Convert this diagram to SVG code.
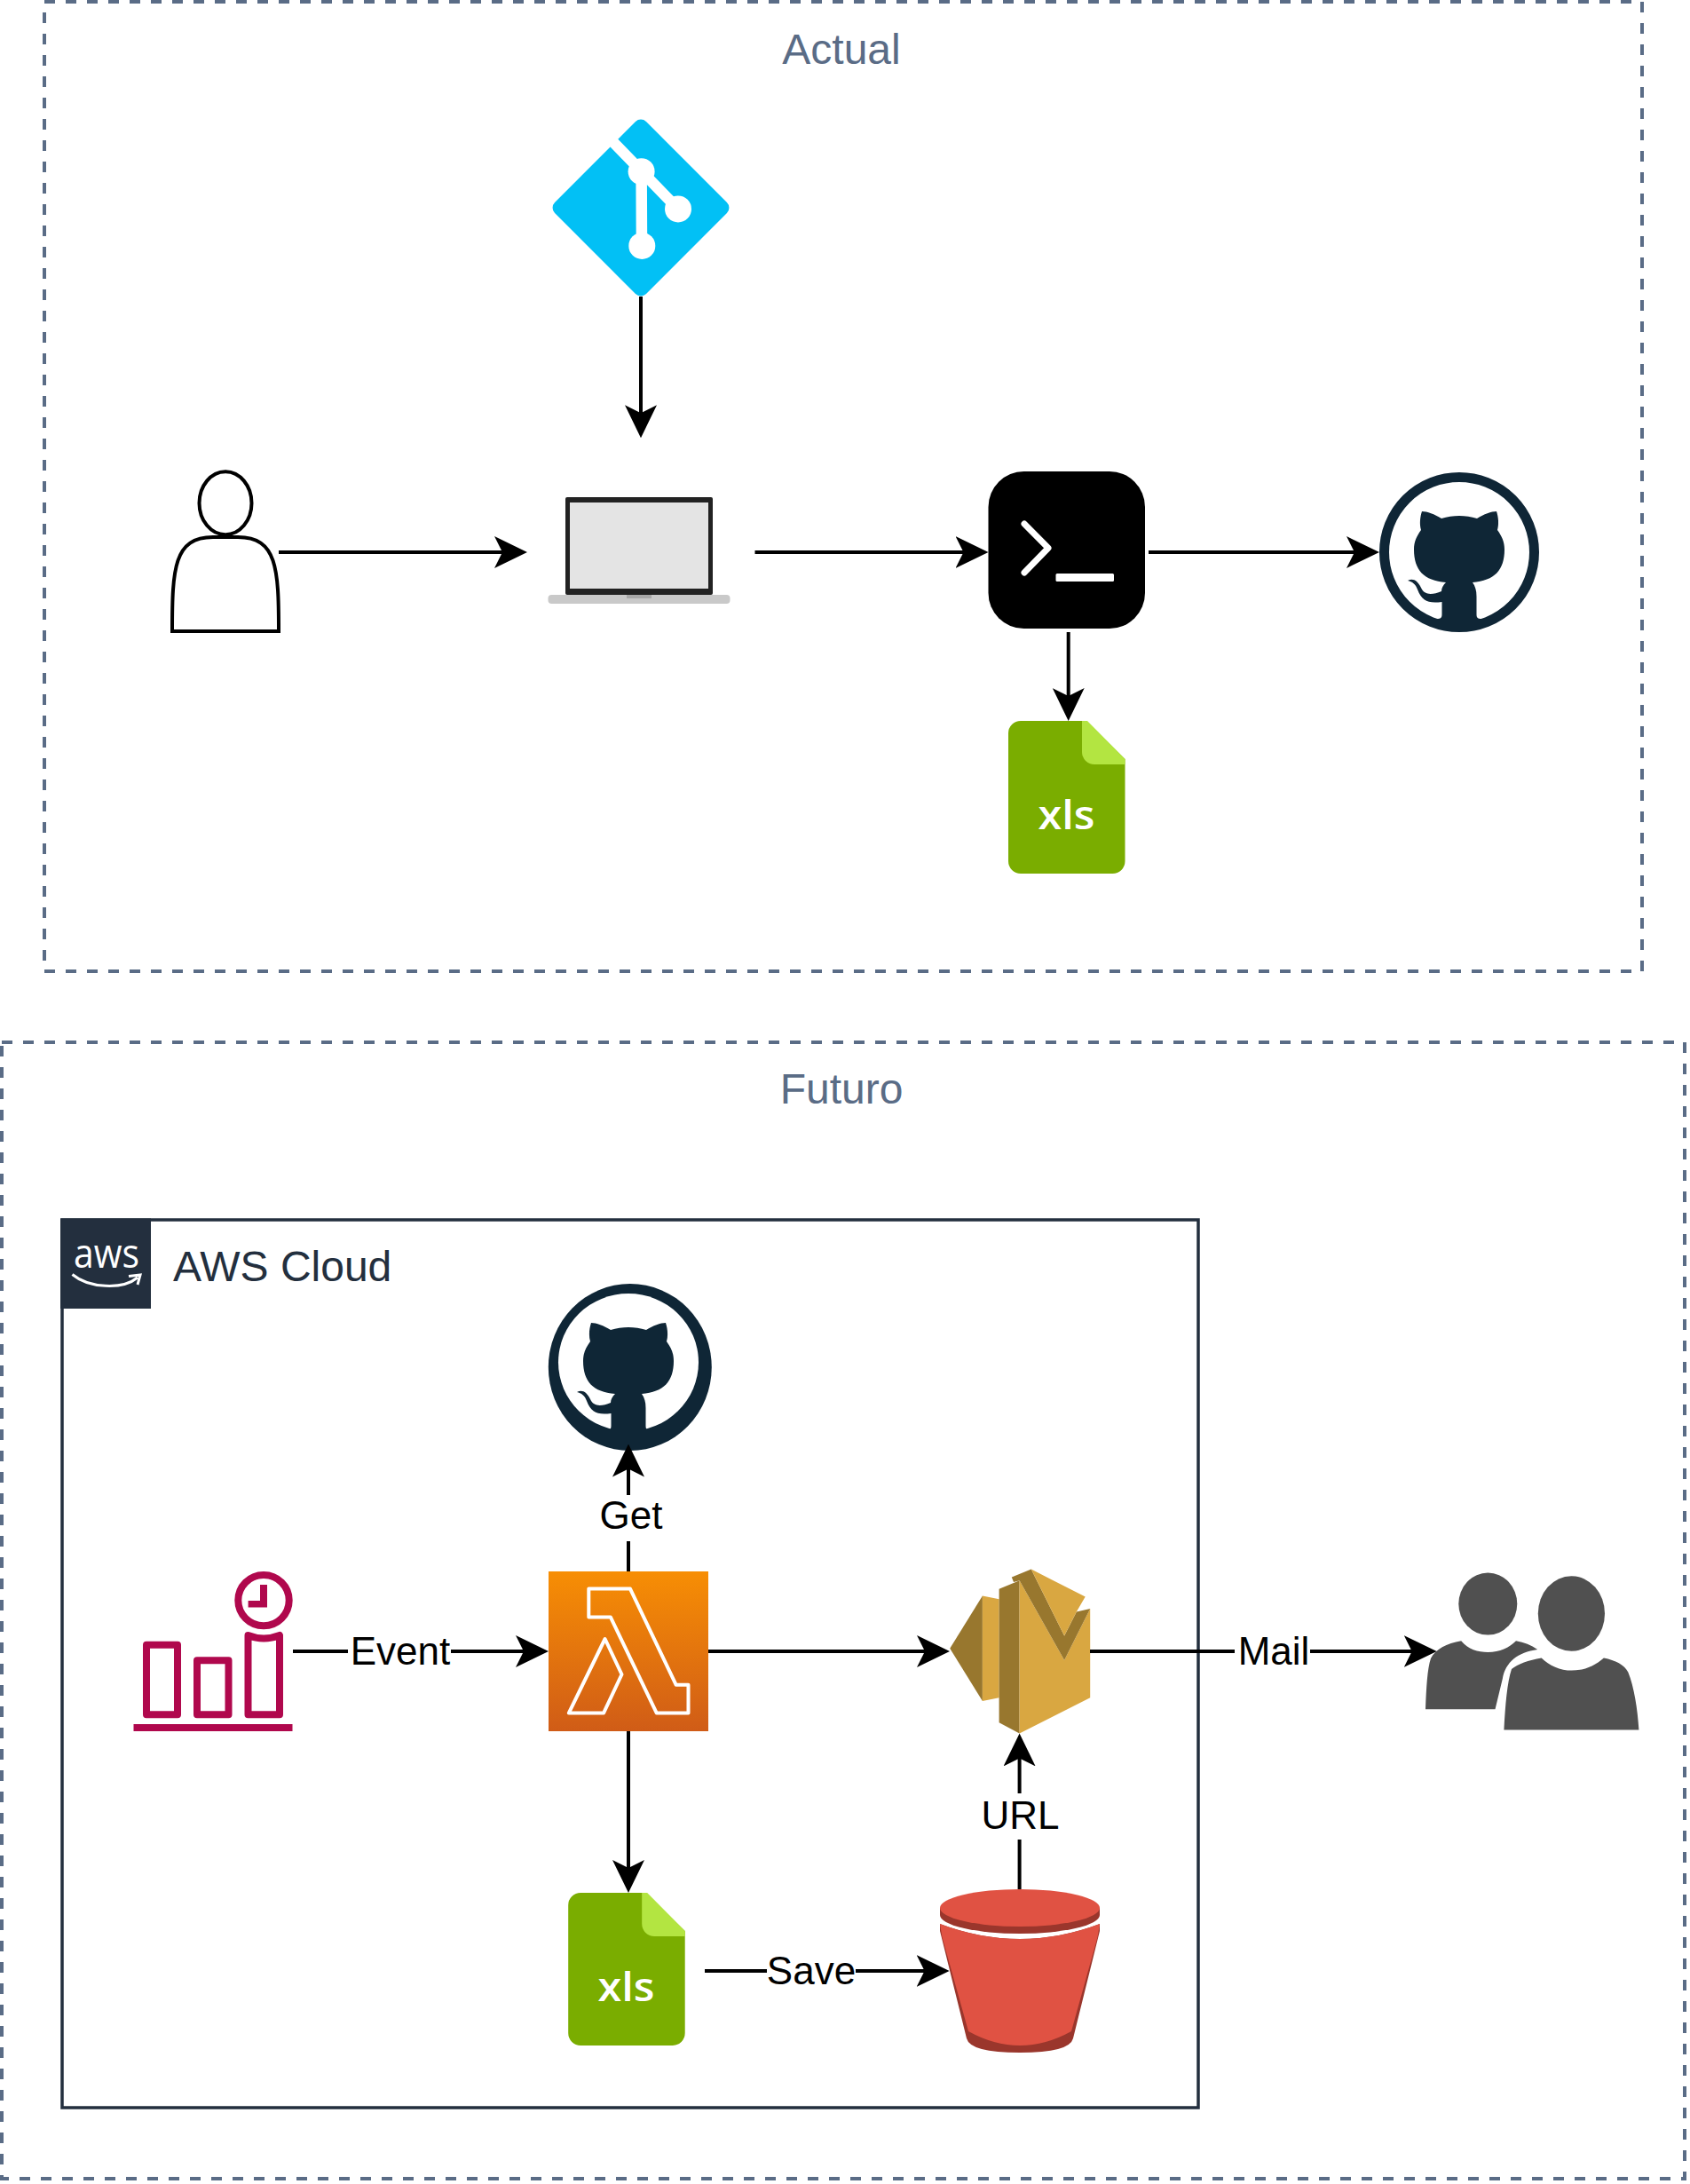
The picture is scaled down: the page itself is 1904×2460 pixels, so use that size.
<svg xmlns="http://www.w3.org/2000/svg" xmlns:xlink="http://www.w3.org/1999/xlink" width="1904" height="2460" viewBox="0 0 1904 2460">
<style>
text{font-family:"Liberation Sans",Arial,sans-serif}
.frame{fill:none;stroke:#5a6c86;stroke-width:4;stroke-dasharray:12 12}
.title{font-size:48px;fill:#5a6c86;text-anchor:middle}
.conn{fill:none;stroke:#000;stroke-width:4;marker-end:url(#arrow)}
.lbl{font-size:44px;fill:#000;text-anchor:middle}
.gap{fill:#fff}
.xls{font-family:"Open Sans",sans-serif;font-size:46px;font-weight:600;fill:#fff}
.sched{fill:none;stroke:#b0084d;stroke-width:8;stroke-linejoin:round}
</style>
<defs>
<marker id="arrow" markerUnits="userSpaceOnUse" viewBox="0 0 37 36" markerWidth="37" markerHeight="36" refX="27" refY="18" orient="auto"><path d="M37 18L0 0L9 18L0 36Z" fill="#000"/></marker>
<linearGradient id="lam" x1="0" y1="0" x2="0" y2="1"><stop offset="0" stop-color="#f78e04"/><stop offset="1" stop-color="#d05c17"/></linearGradient>
<path id="cat" fill="#0f2636" d="M-42-46C-36-46-28-43-20-38C-7-42 7-42 20-38C28-43 36-46 42-46C44-40 45-32 43-25C48-18 51-12 51-3C51 20 40 32 15 34C18 38 19.500 43 19.500 50L19.500 70C19.500 74 21 75 25 75L25 82L-25 82L-25 75C-21 75-19.500 74-19.500 70L-19.500 56C-35 58-42 55-47 42C-49 36-53 33-58 32C-52 29-47 32-43 40C-39 49-30 48-20 44C-20 40-18 37-15 34C-40 32-51 20-51-3C-51-12-48-18-43-25C-45-32-44-40-42-46Z"/>
<g id="xlsfile">
<path fill="#7aad00" d="M14 0H88L131.500 43V158A14 14 0 0 1 117.500 172H14A14 14 0 0 1 0 158V14A14 14 0 0 1 14 0Z"/>
<path fill="#b3e541" d="M83 0H89L131.500 43V49H97A14 14 0 0 1 83 35Z"/>
</g>
</defs>
<rect width="1904" height="2460" fill="#fff"/>

<g id="frame-actual"><rect class="frame" x="50" y="2" width="1800" height="1092"/><text class="title" x="948" y="71.500">Actual</text></g>
<g id="frame-futuro"><rect class="frame" x="2" y="1174" width="1896" height="1280"/><text class="title" x="948" y="1243">Futuro</text></g>

<g id="aws-cloud">
<rect x="70" y="1374" width="1280" height="1000" fill="none" stroke="#232f3e" stroke-width="3.500"/>
<rect x="68" y="1372.500" width="102" height="101.500" fill="#232f3e"/>
<text x="83" y="1427.500" font-size="46" fill="#fff" style="font-family:'Open Sans',sans-serif" textLength="74" lengthAdjust="spacingAndGlyphs">aws</text>
<path d="M81.500 1435.500C100 1451 138 1453 155 1439M145 1437.500L158 1436L155 1447" fill="none" stroke="#fff" stroke-width="3"/>
<text x="195" y="1443" font-size="48" fill="#232f3e">AWS Cloud</text>
</g>

<g id="git">
<rect x="649.200" y="161.200" width="145.600" height="145.600" rx="8.500" transform="rotate(45 722 234)" fill="#02c0f5"/>
<path d="M685 154L764 235.400M722.600 193L723 277" stroke="#fff" stroke-width="12.500" fill="none"/>
<circle cx="722.600" cy="193.200" r="15" fill="#fff"/><circle cx="764" cy="235.400" r="15" fill="#fff"/><circle cx="723.300" cy="276.900" r="15" fill="#fff"/>
</g>

<g id="user" fill="#fff" stroke="#000" stroke-width="4">
<ellipse cx="254" cy="566.700" rx="29.500" ry="35.500"/>
<path d="M194 711C194 640 196 605 240 605L268 605C312 605 314 640 314 711Z"/>
</g>

<g id="laptop">
<rect x="617.500" y="670" width="205" height="10" rx="4" fill="#c9c9c9"/>
<rect x="706" y="670" width="28" height="4" fill="#a8a8a8"/>
<rect x="637" y="560" width="166" height="110" rx="2" fill="#222"/>
<rect x="642" y="566" width="156" height="97" fill="#e4e4e4"/>
</g>

<g id="terminal">
<rect x="1113.500" y="531" width="176.500" height="177" rx="40" fill="#000"/>
<path d="M1154 590L1181 617.300L1154 645" fill="none" stroke="#fff" stroke-width="7" stroke-linecap="round" stroke-linejoin="round"/>
<rect x="1189.500" y="646" width="65.500" height="9" rx="1.500" fill="#fff"/>
</g>

<g id="github-actual">
<circle cx="1644" cy="622" r="84.500" fill="#fff" stroke="#0f2636" stroke-width="11"/>
<use xlink:href="#cat" href="#cat" transform="translate(1644 622)"/>
</g>

<g id="xls-actual"><use xlink:href="#xlsfile" href="#xlsfile" transform="translate(1136 812)"/><text class="xls" x="1169.500" y="934.300" textLength="64" lengthAdjust="spacingAndGlyphs">xls</text></g>

<g id="github-futuro">
<ellipse cx="709.800" cy="1540" rx="92" ry="94" fill="#0f2636"/>
<ellipse cx="708" cy="1534.500" rx="79" ry="77.500" fill="#fff"/>
<use xlink:href="#cat" href="#cat" transform="translate(708 1536)"/>
</g>

<g id="schedule">
<rect x="150.500" y="1942" width="179" height="8" fill="#b0084d"/>
<rect class="sched" x="165" y="1852.800" width="35" height="78.500"/>
<rect class="sched" x="222" y="1870.300" width="35.500" height="61"/>
<path class="sched" d="M279.500 1842Q297 1849 315 1842V1931.300H279.500Z"/>
<circle class="sched" cx="297" cy="1802.600" r="28.700"/>
<path d="M293 1785H301V1810.400H279.600V1803H293Z" fill="#b0084d"/>
</g>

<g id="lambda">
<rect x="618" y="1770" width="180" height="180" fill="url(#lam)"/>
<g fill="none" stroke="#fff" stroke-width="4" stroke-linejoin="round">
<path d="M663.300 1789.600H710L761.700 1897.800H775.500V1929.600H739.800L687.800 1821.400H663.300Z"/>
<path d="M681.600 1846L700.500 1886L680 1929.600H640.800Z"/>
</g>
</g>

<g id="ses">
<path fill="#98772e" d="M1070.200 1856.700L1106.900 1797.400V1916Z"/>
<path fill="#d9a741" d="M1106.900 1797.400L1125.600 1801.200V1912.200L1106.900 1916Z"/>
<path fill="#98772e" d="M1125.600 1789.800L1148.600 1780.200V1952.400L1125.600 1940.200Z"/>
<path fill="#d9a741" d="M1148.600 1780.200L1199.100 1870.100L1228.200 1811.900V1912.200L1148.600 1952.400Z"/>
<path fill="#98772e" d="M1139.800 1776.400L1161.800 1767.600L1199.100 1842.600L1212.800 1815.400L1228.200 1811.900L1199.100 1870.100L1148.600 1780.200L1142 1782.100Z"/>
<path fill="#d9a741" d="M1161.800 1767.600L1222.700 1798.600L1212.800 1815.400L1199.100 1842.600Z"/>
</g>

<g id="users" fill="#505050">
<ellipse cx="1676.300" cy="1806.600" rx="33" ry="35"/>
<path d="M1606 1925.200C1607 1900 1608 1880 1612 1868C1617 1858 1630 1851 1646.200 1848.300C1654 1858 1665 1861 1676.300 1861C1690 1861 1700 1856 1708 1848.300C1717 1850 1725 1853 1732.200 1857.900C1710 1861 1696 1872 1692.800 1891L1684.500 1925.200Z"/>
<ellipse cx="1770.400" cy="1817.500" rx="37.600" ry="42.300"/>
<path d="M1694.400 1948.600C1696 1920 1698 1895 1703 1880C1710 1874 1722 1870 1736.700 1867.400C1745 1876 1758 1881.600 1770.700 1881.600C1785 1881.600 1797 1876 1806.900 1867.400C1820 1870 1830 1875 1834.300 1883.500C1841 1900 1845 1925 1846.400 1948.600Z"/>
</g>

<g id="s3">
<path fill="#9a362c" d="M1059 2149V2157A90 21 0 0 0 1239 2157V2149Z"/>
<ellipse cx="1149" cy="2149" rx="90" ry="21" fill="#e05243"/>
<path fill="#9a362c" d="M1059 2167Q1149 2201 1239 2167V2175L1209 2296Q1205 2312 1149 2312Q1093 2312 1089 2296L1059 2175Z"/>
<path fill="#e05243" d="M1059 2167Q1149 2201 1239 2167L1236.500 2182L1207 2288Q1149 2320 1091 2288L1061.500 2182Z"/>
</g>

<g id="xls-futuro"><use xlink:href="#xlsfile" href="#xlsfile" transform="translate(640.200 2132)"/><text class="xls" x="673.500" y="2254.300" textLength="64" lengthAdjust="spacingAndGlyphs">xls</text></g>

<g id="connectors">
<path class="conn" d="M722 334V483.300"/>
<path class="conn" d="M314 622H584"/>
<path class="conn" d="M850.500 622H1103.500"/>
<path class="conn" d="M1294 622H1544"/>
<path class="conn" d="M1203.700 712V802"/>
<path class="conn" d="M330 1860H608"/>
<rect class="gap" x="392" y="1835" width="116" height="50"/><text class="lbl" x="451" y="1875">Event</text>
<path class="conn" d="M708 1770V1636.500"/>
<rect class="gap" x="676" y="1684" width="68" height="52"/><text class="lbl" x="711" y="1722">Get</text>
<path class="conn" d="M708 1950V2122"/>
<path class="conn" d="M798 1860H1060"/>
<path class="conn" d="M1228 1860H1608.700"/>
<rect class="gap" x="1391" y="1835" width="85" height="50"/><text class="lbl" x="1435" y="1875">Mail</text>
<path class="conn" d="M1148.600 2128V1962.400"/>
<rect class="gap" x="1105" y="2020" width="88" height="52"/><text class="lbl" x="1149.500" y="2059.500">URL</text>
<path class="conn" d="M794 2220H1059.600"/>
<rect class="gap" x="864" y="2195" width="100" height="50"/><text class="lbl" x="914" y="2235">Save</text>
</g>
</svg>
